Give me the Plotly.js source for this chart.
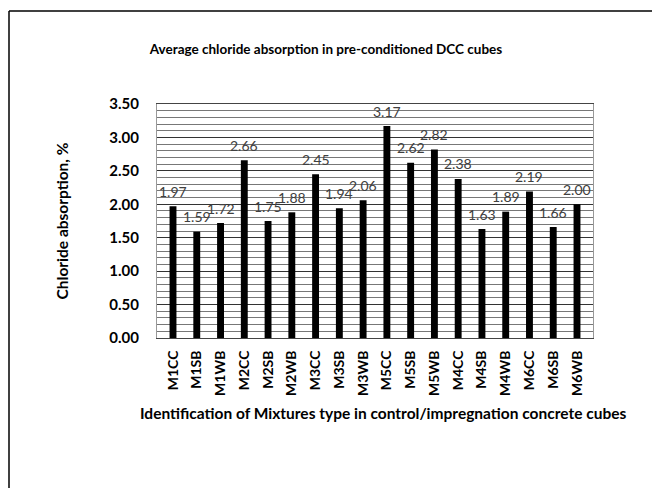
<!DOCTYPE html>
<html>
<head>
<meta charset="utf-8">
<script src="https://cdn.plot.ly/plotly-3.0.1.min.js"></script>
<style>html,body{margin:0;padding:0;background:#fff;}#chart{width:652px;height:488px;}</style>
</head>
<body>
<div id="chart"></div>
<script>
const mixtures = ["M1CC","M1SB","M1WB","M2CC","M2SB","M2WB","M3CC","M3SB","M3WB","M5CC","M5SB","M5WB","M4CC","M4SB","M4WB","M6CC","M6SB","M6WB"];
const absorption = [1.97,1.59,1.72,2.66,1.75,1.88,2.45,1.94,2.06,3.17,2.62,2.82,2.38,1.63,1.89,2.19,1.66,2.00];
const yTicks = [0,0.5,1,1.5,2,2.5,3,3.5];

const FONT = "Lato, 'Open Sans', sans-serif";
const L = 157, R = 59, T = 104, B = 150, W = 652, H = 488;
const pw = W - L - R, ph = H - T - B;
const px = v => (v - L) / pw;
const py = v => (H - B - v) / ph;

const trace = {
  type: "bar",
  x: mixtures,
  y: absorption,
  marker: {color: "#000000"},
  hoverinfo: "x+y"
};

const valueLabels = mixtures.map((m, i) => ({
  x: m, y: absorption[i], xref: "x", yref: "y",
  text: absorption[i].toFixed(2), showarrow: false,
  yanchor: "middle", yshift: 15,
  font: {family: FONT, size: 14, color: "#404040"}
}));

const layout = {
  width: W, height: H,
  margin: {l: L, r: R, t: T, b: B},
  paper_bgcolor: "#ffffff", plot_bgcolor: "#ffffff",
  bargap: 0.71,
  showlegend: false,
  title: {
    text: "<b>Average chloride absorption in pre-conditioned DCC cubes</b>",
    x: 0.5, xref: "container", xanchor: "center",
    y: 1 - 49 / H, yref: "container", yanchor: "middle",
    font: {family: FONT, size: 13.5, color: "#000"}
  },
  xaxis: {
    type: "category",
    tickangle: -90,
    tickfont: {family: FONT, size: 14, color: "#000", weight: "bold"},
    ticks: "", showgrid: false,
    showline: true, linecolor: "#444", linewidth: 1, mirror: true,
    ticklabelstandoff: 6
  },
  yaxis: {
    range: [0, 3.5],
    tickvals: yTicks,
    tickformat: ".2f",
    tickfont: {family: FONT, size: 15, color: "#000", weight: "bold"},
    ticks: "", ticklabelstandoff: 14,
    showgrid: true, gridcolor: "#333", gridwidth: 1,
    minor: {dtick: 0.1, showgrid: true, gridcolor: "#777", gridwidth: 1},
    showline: true, linecolor: "#999", linewidth: 1, mirror: true,
    zeroline: false,
    title: {
      text: "<b>Chloride absorption, %</b>",
      font: {family: FONT, size: 15.5, color: "#000"},
      standoff: 36
    }
  },
  annotations: valueLabels.concat([
    {
      text: "<b>Identification of Mixtures type in control/impregnation concrete cubes</b>",
      xref: "paper", yref: "paper", x: px(383), y: py(413),
      xanchor: "center", yanchor: "middle", showarrow: false,
      font: {family: FONT, size: 15.5, color: "#000"}
    }
  ]),
  shapes: [
    {type: "line", xref: "paper", yref: "paper", x0: px(9), x1: px(660), y0: py(11), y1: py(11), line: {color: "#000", width: 1.5}},
    {type: "line", xref: "paper", yref: "paper", x0: px(9), x1: px(9), y0: py(11), y1: py(500), line: {color: "#000", width: 1.5}}
  ]
};

Plotly.newPlot("chart", [trace], layout, {displayModeBar: false, staticPlot: true});
</script>
</body>
</html>
